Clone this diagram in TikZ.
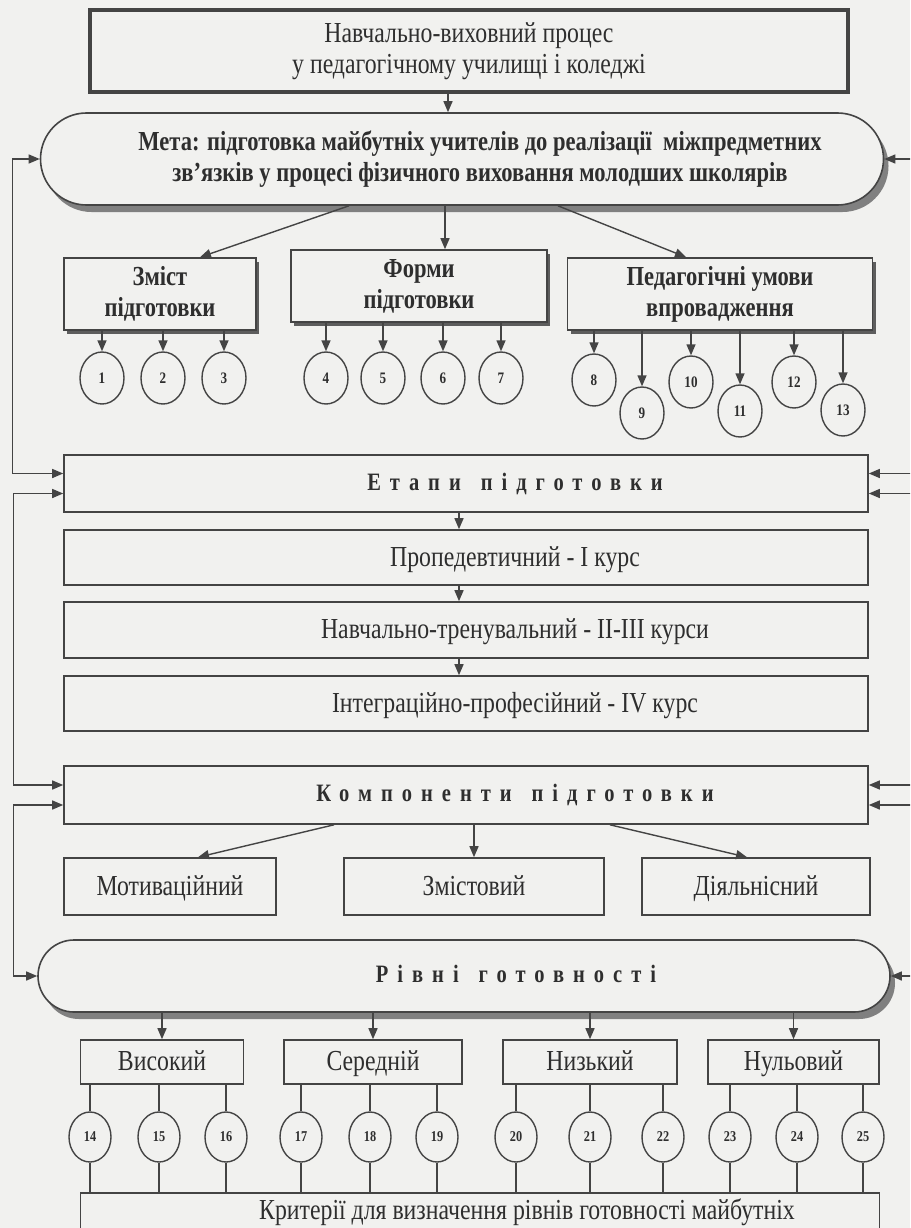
\documentclass[tikz,border=0pt]{standalone}
\usepackage{fontspec}
\setmainfont{Liberation Serif}[FakeStretch=0.82]
\newfontfamily\widefont{Liberation Serif}[FakeStretch=0.82, LetterSpace=36]
\usetikzlibrary{shapes.geometric, shapes.misc, shadows, arrows.meta}

\definecolor{ink}{RGB}{68,68,68}
\definecolor{paper}{RGB}{241,241,239}

\tikzset{
  tri/.tip={Triangle[length=11pt, width=9pt]},
  body/.style={font=\fontsize{29}{31}\selectfont, text=black!82},
  line/.style={body, text height=21pt, text depth=4pt},
  head/.style={font=\bfseries\fontsize{27.5}{31}\selectfont, text=black!82},
  spaced/.style={font=\widefont\bfseries\fontsize{25}{26}\selectfont, text=black!82, text height=17pt, text depth=4pt},
  box/.style={draw=ink, line width=1.6pt, rectangle, inner sep=0pt, fill=paper},
  shbox/.style={box, drop shadow={shadow xshift=3pt, shadow yshift=-4pt, fill=ink, opacity=0.85}},
  oval/.style={rounded rectangle, draw=ink, line width=1.6pt, fill=paper, inner sep=0pt,
    drop shadow={shadow xshift=5pt, shadow yshift=-7pt, fill=black!50, opacity=1}},
  stage/.style={box, minimum width=804pt},
  num/.style={ellipse, draw=ink, line width=1.4pt, minimum width=44pt, minimum height=52pt,
    inner sep=0pt, fill=paper, font=\bfseries\fontsize{16}{16}\selectfont, text=black!82},
  arr/.style={draw=ink, line width=1.4pt, -tri},
  fb/.style={draw=ink, line width=1.4pt, tri-tri},
  tie/.style={draw=ink, line width=1.3pt}
}

\begin{document}
\begin{tikzpicture}[x=1pt, y=-1pt]
        % paper
        \useasboundingbox (0,0) rectangle (910,1228);
        \clip (0,0) rectangle (910,1228);
        \fill[paper] (0,0) rectangle (910,1228);

        % Process and goal
        \node[box, line width=3.2pt, minimum width=758pt, minimum height=82pt, body, align=center] (proc) at (469,51)
            {Навчально-виховний процес\\у педагогічному училищі і коледжі};
        \node[oval, minimum width=843pt, minimum height=92pt,
            label={[head, align=center, xshift=18pt]center:{Мета: підготовка майбутніх учителів до реалізації\ \ міжпредметних\\зв’язків у процесі фізичного виховання молодших школярів}}] (meta) at (462,159) {};
        \draw[arr] ([xshift=-21pt]proc.south) -- ([xshift=-14pt]meta.north);

        % Content, forms, conditions
        \node[shbox, minimum width=192pt, minimum height=72pt, head, align=center] (zmist) at (160,294) {Зміст\\підготовки};
        \node[shbox, minimum width=256pt, minimum height=72pt, head, align=center] (formy) at (419,286) {Форми\\підготовки};
        \node[shbox, minimum width=305pt, minimum height=72pt, head, align=center] (umovy) at (720,294) {Педагогічні умови\\впровадження};
        \draw[arr] ([xshift=-113pt]meta.south) -- ([xshift=40pt]zmist.north);
        \draw[arr] ([xshift=-17pt]meta.south) -- ([xshift=26pt]formy.north);
        \draw[arr] ([xshift=96pt]meta.south) -- ([xshift=-34pt]umovy.north);

        % Numbered items under the three boxes
        \foreach \n/\x/\y/\p in {1/102/378/zmist, 2/163/378/zmist, 3/224/378/zmist,
            4/326/378/formy, 5/383/378/formy, 6/443/378/formy, 7/501/378/formy,
            8/594/380/umovy, 9/642/413/umovy, 10/691/382/umovy, 11/740/411/umovy, 12/794/382/umovy, 13/843/410/umovy} {
            \node[num] (c\n) at (\x,\y) {\n};
            \draw[arr] (c\n |- \p.south) -- (c\n);
        }

        % Stages
        \node[stage, minimum height=57pt, label={[spaced, xshift=49pt]center:{Етапи\hspace{20pt}підготовки}}] (etapy) at (466,483.5) {};
        \node[stage, minimum height=55pt, label={[line, xshift=49pt]center:{Пропедевтичний - І курс}}] (prop) at (466,557.5) {};
        \node[stage, minimum height=56pt, label={[line, xshift=49pt]center:{Навчально-тренувальний - ІІ-ІІІ курси}}] (trenuv) at (466,630) {};
        \node[stage, minimum height=55pt, label={[line, xshift=49pt]center:{Інтеграційно-професійний - IV курс}}] (integr) at (466,703.5) {};
        \node[stage, minimum height=58pt, label={[spaced, xshift=49pt]center:{Компоненти\hspace{20pt}підготовки}}] (komp) at (466,795) {};
        \draw[arr] ([xshift=-7pt]etapy.south) -- ([xshift=-7pt]prop.north);
        \draw[arr] ([xshift=-7pt]prop.south) -- ([xshift=-7pt]trenuv.north);
        \draw[arr] ([xshift=-7pt]trenuv.south) -- ([xshift=-7pt]integr.north);

        % Components
        \node[box, minimum width=212pt, minimum height=57pt, line] (motiv) at (170,886.5) {Мотиваційний};
        \node[box, minimum width=260pt, minimum height=57pt, line] (zmistov) at (474,886.5) {Змістовий};
        \node[box, minimum width=228pt, minimum height=57pt, line] (diyal) at (756,886.5) {Діяльнісний};
        \draw[arr] ([xshift=-132pt]komp.south) -- ([xshift=28pt]motiv.north);
        \draw[arr] ([xshift=8pt]komp.south) -- (zmistov.north);
        \draw[arr] ([xshift=144pt]komp.south) -- ([xshift=-9pt]diyal.north);

        % Levels of readiness
        \node[oval, minimum width=852pt, minimum height=72pt,
            label={[spaced, xshift=52pt]center:{Рівні\hspace{20pt}готовності}}] (rivni) at (464,976) {};
        \node[box, minimum width=163pt, minimum height=44pt, line] (vys) at (162,1062) {Високий};
        \node[box, minimum width=178pt, minimum height=44pt, line] (ser) at (373,1062) {Середній};
        \node[box, minimum width=174pt, minimum height=44pt, line] (nyz) at (590,1062) {Низький};
        \node[box, minimum width=171pt, minimum height=44pt, line] (nul) at (793.5,1062) {Нульовий};
        \foreach \lv in {vys, ser, nyz, nul} {
            \draw[arr] (\lv |- rivni.south) -- (\lv);
        }

        % Criteria (cut by the page edge)
        \node[box, minimum width=799pt, minimum height=100pt] (kryt) at (480,1243) {};
        \node[line] (krytlbl) at (527,1211) {Критерії для визначення рівнів готовності майбутніх};

        % Numbered items under the levels
        \foreach \n/\x/\lv in {14/90/vys, 15/159/vys, 16/226/vys, 17/301/ser, 18/370/ser, 19/437/ser,
            20/516/nyz, 21/590/nyz, 22/663/nyz, 23/730/nul, 24/797/nul, 25/863/nul} {
            \node[num, minimum width=42pt, minimum height=50pt, font=\bfseries\fontsize{15}{15}\selectfont] (c\n) at (\x,1137) {\n};
            \draw[tie] (c\n |- \lv.south) -- (c\n);
            \draw[tie] (c\n) -- (c\n |- kryt.north);
        }

        % Feedback lines, left
        \draw[fb] (meta.west) -- ++(-27,0) |- ([yshift=10pt]etapy.west);
        \draw[fb] ([yshift=-10pt]etapy.west) -- ++(-50,0) |- ([yshift=10pt]komp.west);
        \draw[fb] ([yshift=-10pt]komp.west) -- ++(-50,0) |- (rivni.west);

        % Feedback lines, right
        \draw[fb] (meta.east) -- ++(46,0) |- ([yshift=10pt]etapy.east);
        \draw[fb] ([yshift=-10pt]etapy.east) -- ++(62,0) |- ([yshift=10pt]komp.east);
        \draw[fb] ([yshift=-10pt]komp.east) -- ++(62,0) |- (rivni.east);
\end{tikzpicture}
\end{document}
